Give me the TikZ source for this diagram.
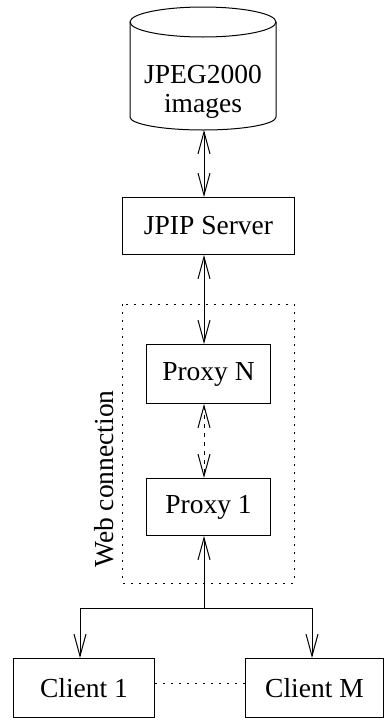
\documentclass[tikz,border=0pt]{standalone}
\usepackage{fontspec}
\setmainfont{Liberation Serif}
\usetikzlibrary{arrows.meta}
\tikzset{vb/.tip={Straight Barb[length=22pt,width=12pt]}}
\begin{document}
\begin{tikzpicture}[x=1pt,y=-1pt,
  line width=1pt,
  every node/.style={font=\fontsize{27.5}{30}\selectfont},
  box/.style={draw,line width=1pt,inner sep=0pt,anchor=north west},
  dotline/.style={line width=1pt,dash pattern=on 1.6pt off 6.4pt},
  dashline/.style={line width=1pt,dash pattern=on 4pt off 5pt}]
\useasboundingbox (0,0) rectangle (385,718);
% database cylinder
\draw (203,22) ellipse [x radius=73, y radius=15];
\draw (130,22) -- (130,117) arc[start angle=180,end angle=0,x radius=73,y radius=13] -- (276,22);
\node[align=center,inner sep=0pt] (db) at (203,92) {JPEG2000\\[-1pt]images};
\coordinate (dbbot) at (204,130);
\coordinate (ax) at (204,0);
% boxes
\node[box,minimum width=172pt,minimum height=57pt] (jpip) at (122,197) {JPIP Server};
\node[box,minimum width=124pt,minimum height=59pt] (pn) at (146,344) {Proxy N};
\node[box,minimum width=124pt,minimum height=57pt] (p1) at (146,478) {Proxy 1};
\node[box,minimum width=141pt,minimum height=59pt] (c1) at (13,658) {Client 1};
\node[box,minimum width=138pt,minimum height=59pt] (cm) at (245,658) {Client M};
% web connection frame
\draw[dotline] (122,304) rectangle (294,583);
\node[rotate=90,anchor=base,inner sep=0pt] (web) at (113,479) {Web connection};
% connectors
\draw[vb-vb] (dbbot) -- (jpip.north -| ax);
\draw[vb-vb] (jpip.south -| ax) -- (pn.north -| ax);
\draw[vb-vb,dashline] (pn.south -| ax) -- (p1.north -| ax);
\coordinate (br) at (204,608);
\coordinate (bl) at (80,608);
\coordinate (brr) at (312,608);
\draw[vb-] (p1.south -| ax) -- (br);
\draw[-vb] (br) -- (bl) -- (c1.north -| bl);
\draw[-vb] (br) -- (brr) -- (cm.north -| brr);
\draw[dotline] (c1.east |- 0,683) -- (cm.west |- 0,683);
\end{tikzpicture}
\end{document}
